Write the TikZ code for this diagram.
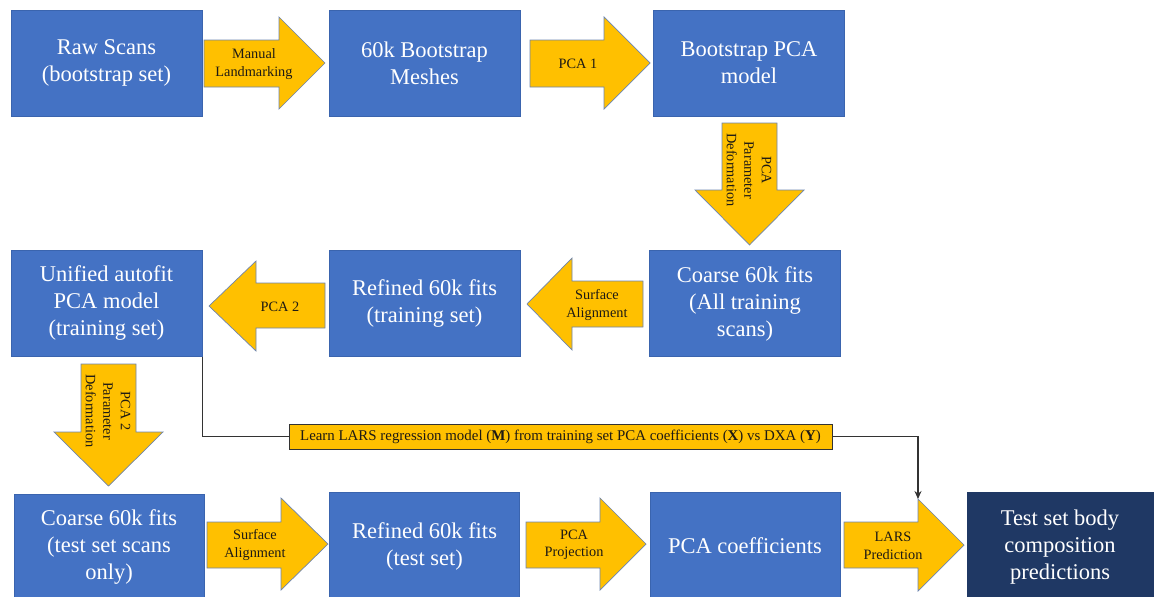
\documentclass[tikz,border=0pt]{standalone}
\usepackage{fontspec}
\setmainfont{Liberation Serif}
\usetikzlibrary{arrows.meta}
\definecolor{boxblue}{HTML}{4472C4}
\definecolor{boxedge}{HTML}{3A64AE}
\definecolor{navy}{HTML}{1F3864}
\definecolor{amber}{HTML}{FFC000}
\definecolor{arredge}{HTML}{6C84B0}
\definecolor{txtdark}{HTML}{1E1A14}
\definecolor{linegray}{HTML}{333333}
\tikzset{
  box/.style={draw=boxedge, line width=0.8pt, fill=boxblue, text=white,
    minimum width=191pt, minimum height=106pt, inner sep=0pt, align=center,
    font=\fontsize{22.5}{27}\selectfont},
  darkbox/.style={box, fill=navy, draw=navy},
  yarrow/.style={fill=amber, draw=arredge, line width=0.7pt, line join=miter},
  atext/.style={text=txtdark, align=center, inner sep=0pt,
    font=\fontsize{14.3}{17.5}\selectfont},
  lbox/.style={draw=linegray, line width=0.9pt, fill=amber, text=txtdark,
    minimum width=543pt, minimum height=25pt, inner sep=0pt,
    font=\fontsize{14.9}{16}\selectfont},
  conn/.style={draw=linegray, line width=1.4pt},
}
\begin{document}
\begin{tikzpicture}[x=1pt,y=-1pt]
\useasboundingbox (0,0) rectangle (1154,597);
\begin{scope}
\clip (0,0) rectangle (1154,597);
% ---------- boxes ----------
\node[box] (raw) at (106.5,63) {Raw Scans\\(bootstrap set)};
\node[box] (meshes) at (424.5,63) {60k Bootstrap\\Meshes};
\node[box] (bpca) at (749,63) {Bootstrap PCA\\model};
\node[box] (unified) at (106.5,303.5) {Unified autofit\\PCA model\\(training set)};
\node[box] (reftrain) at (424.5,303.5) {Refined 60k fits\\(training set)};
\node[box] (coarsetrain) at (745,303.5) {Coarse 60k fits\\(All training\\scans)};
\node[box, minimum width=190pt, minimum height=106pt] (coarsetest) at (109,547) {Coarse 60k fits\\(test set scans\\only)};
\node[box, minimum width=190pt, minimum height=108pt] (reftest) at (424.5,546) {Refined 60k fits\\(test set)};
\node[box, minimum width=190pt, minimum height=108pt] (pcacoef) at (745,546) {PCA coefficients};
\node[darkbox, minimum width=192pt, minimum height=108pt] (pred) at (1063,546) {};
\node[text=white, align=center, font=\fontsize{22.5}{27}\selectfont] (predtxt) at (1060,547) {Test set body\\composition\\predictions};

% ---------- block arrows ----------
% row 1
\draw[yarrow] (204,40) -- (279,40) -- (279,17) -- (325,63) -- (279,109) -- (279,87) -- (204,87) -- cycle;
\node[atext] (a1) at (254,64) {Manual\\Landmarking};
\draw[yarrow] (530,40) -- (604,40) -- (604,17) -- (650,63) -- (604,109) -- (604,87) -- (530,87) -- cycle;
\node[atext] (a2) at (578,64) {PCA 1};
% down arrow 1
\draw[yarrow] (722,123) -- (777,123) -- (777,190) -- (804,190) -- (749.5,245) -- (695,190) -- (722,190) -- cycle;
\node[atext, rotate=-90] (d1) at (749,170) {PCA\\Parameter\\Deformation};
% row 2 (leftward)
\draw[yarrow] (643,281) -- (572,281) -- (572,258) -- (527,304) -- (572,350) -- (572,327) -- (643,327) -- cycle;
\node[atext] (a3) at (597,305) {Surface\\Alignment};
\draw[yarrow] (325,283) -- (256,283) -- (256,261) -- (209,306) -- (256,351) -- (256,328) -- (325,328) -- cycle;
\node[atext] (a4) at (280,307) {PCA 2};
% down arrow 2
\draw[yarrow] (81,364) -- (136,364) -- (136,432) -- (163,432) -- (108.5,486) -- (54,432) -- (81,432) -- cycle;
\node[atext, rotate=-90] (d2) at (108,411) {PCA 2\\Parameter\\Deformation};
% row 3
\draw[yarrow] (207,522) -- (281,522) -- (281,498) -- (328,544) -- (281,590) -- (281,568) -- (207,568) -- cycle;
\node[atext] (a5) at (255,545) {Surface\\Alignment};
\draw[yarrow] (526,522) -- (600,522) -- (600,498) -- (646,544) -- (600,590) -- (600,568) -- (526,568) -- cycle;
\node[atext] (a6) at (574,545) {PCA\\Projection};
\draw[yarrow] (844,522) -- (918,522) -- (918,499) -- (964,545) -- (918,591) -- (918,568) -- (844,568) -- cycle;
\node[atext] (a7) at (893,546) {LARS\\Prediction};
\coordinate (larstop) at (918,499);

% ---------- LARS regression label and connector ----------
\node[lbox] (lars) at (560.5,436.5) {Learn LARS regression model (\textbf{M}) from training set PCA coefficients (\textbf{X}) vs DXA (\textbf{Y})};
\draw[conn] (unified.south east) |- (lars.west);
\draw[conn, -{Stealth[length=8pt,width=7pt]}] (lars.east) -| (larstop);
\end{scope}
\end{tikzpicture}
\end{document}
